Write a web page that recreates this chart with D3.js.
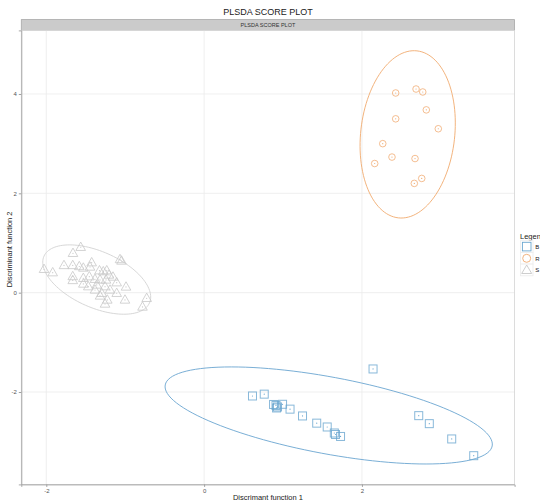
<!DOCTYPE html>
<html>
<head>
<meta charset="utf-8">
<script src="https://cdn.jsdelivr.net/npm/d3@7"></script>
<style>
  html, body { margin: 0; padding: 0; background: #fff; }
  svg { display: block; font-family: "Liberation Sans", Arial, sans-serif; }
</style>
</head>
<body>
<svg id="chart" width="540" height="503"></svg>
<script>
// Group labels
const groups = ["B", "R", "S"];

// Scores on discriminant functions 1 and 2, per group
const bX = [0.613, 0.762, 0.880, 0.911, 0.930, 0.918, 0.994, 1.089, 1.247, 1.427, 1.560, 1.650, 1.665, 1.729, 2.141, 2.720, 2.854, 3.138, 3.417];
const bY = [-2.080, -2.043, -2.251, -2.271, -2.301, -2.321, -2.247, -2.345, -2.482, -2.627, -2.704, -2.825, -2.855, -2.895, -1.536, -2.476, -2.637, -2.945, -3.282];

const rX = [2.428, 2.686, 2.771, 2.816, 2.428, 2.968, 2.264, 2.381, 2.162, 2.673, 2.758, 2.664];
const rY = [4.02, 4.10, 4.04, 3.68, 3.50, 3.30, 3.00, 2.73, 2.60, 2.70, 2.30, 2.20];

const sX = [-1.564, -1.662, -2.029, -1.919, -1.776, -1.665, -1.582, -1.531, -1.425, -1.446,
            -1.066, -1.047, -1.326, -1.278, -1.234, -1.665, -1.665, -1.531, -1.455, -1.383,
            -1.319, -1.243, -1.108, -1.155, -0.990, -1.531, -1.468, -1.361, -1.256, -1.193,
            -1.108, -1.298, -1.319, -1.227, -1.256, -1.003, -0.728, -0.781, -1.383, -1.205];
const sY = [0.914, 0.793, 0.471, 0.403, 0.548, 0.548, 0.527, 0.497, 0.604, 0.517,
            0.668, 0.638, 0.443, 0.423, 0.443, 0.326, 0.246, 0.290, 0.322, 0.270,
            0.256, 0.256, 0.201, 0.316, 0.115, 0.175, 0.121, 0.155, 0.121, 0.054,
            -0.012, -0.012, -0.066, -0.147, -0.228, -0.147, -0.113, -0.288, 0.054, 0.356];

// 95% confidence ellipses: centre and two conjugate semi-diameters (B, R, S)
const ellCx = [1.579, 2.580, -1.361];
const ellCy = [-2.472, 3.187, 0.264];
const ellUx = [2.072, 0.118, 0.669];
const ellUy = [-0.614, 1.681, -0.469];
const ellVx = [-0.089, 0.592, -0.143];
const ellVy = [-0.760, -0.105, -0.517];

// Axes
const xDomain = [-2.317, 3.935];
const yDomain = [-3.86, 5.28];
const xTicks = [-2, 0, 2];
const yTicks = [-2, 0, 2, 4];
const tickLabel = d => String(d);

const svg = d3.select("#chart");
const pLeft = 21.3, pRight = 514.6, pTop = 30.4, pBottom = 484.4;

const x = d3.scaleLinear().domain(xDomain).range([pLeft, pRight]);
const y = d3.scaleLinear().domain(yDomain).range([pBottom, pTop]);

const strokeCol = { B: "#6aa6cf", R: "#f0aa70", S: "#c8c8c8" };
const ellCol = { B: "#6aa5d0", R: "#f0aa6e", S: "#d2d2d2" };

// Title
svg.append("text").attr("x", (pLeft + pRight) / 2).attr("y", 15)
  .attr("text-anchor", "middle").attr("font-size", 9).attr("fill", "#222")
  .text("PLSDA SCORE PLOT");

// Facet strip
svg.append("rect").attr("x", pLeft).attr("y", 19.6).attr("width", pRight - pLeft).attr("height", pTop - 19.6)
  .attr("fill", "#cbcbcb").attr("stroke", "#a8a8a8").attr("stroke-width", 0.8);
svg.append("text").attr("x", (pLeft + pRight) / 2).attr("y", 27.3)
  .attr("text-anchor", "middle").attr("font-size", 5.5).attr("fill", "#333")
  .text("PLSDA SCORE PLOT");

// Panel background and grid
svg.append("rect").attr("x", pLeft).attr("y", pTop).attr("width", pRight - pLeft).attr("height", pBottom - pTop)
  .attr("fill", "#fff");
const grid = svg.append("g");
grid.selectAll("line.gx").data(xTicks).join("line")
  .attr("x1", d => x(d)).attr("x2", d => x(d)).attr("y1", pTop).attr("y2", pBottom)
  .attr("stroke", "#ebebeb").attr("stroke-width", 0.8);
grid.selectAll("line.gy").data(yTicks).join("line")
  .attr("y1", d => y(d)).attr("y2", d => y(d)).attr("x1", pLeft).attr("x2", pRight)
  .attr("stroke", "#ebebeb").attr("stroke-width", 0.8);

// Panel border
svg.append("rect").attr("x", pLeft).attr("y", pTop).attr("width", pRight - pLeft).attr("height", pBottom - pTop)
  .attr("fill", "none").attr("stroke", "#d4d4d4").attr("stroke-width", 0.8);

// Axes
const xAxis = d3.axisBottom(x).tickValues(xTicks).tickFormat(tickLabel).tickSize(2.5).tickPadding(2);
const yAxis = d3.axisLeft(y).tickValues(yTicks).tickFormat(tickLabel).tickSize(2.5).tickPadding(2);
const gx = svg.append("g").attr("transform", `translate(0,${pBottom})`).call(xAxis);
const gy = svg.append("g").attr("transform", `translate(${pLeft},0)`).call(yAxis);
[gx, gy].forEach(g => {
  g.select(".domain").attr("stroke", "#a0a0a0").attr("stroke-width", 0.9);
  g.selectAll(".tick line").attr("stroke", "#a0a0a0");
  g.selectAll(".tick text").attr("font-size", 6).attr("fill", "#555")
    .attr("font-family", "Liberation Sans, Arial, sans-serif");
});

// Axis titles
svg.append("text").attr("x", (pLeft + pRight) / 2).attr("y", 500)
  .attr("text-anchor", "middle").attr("font-size", 7.5).attr("fill", "#222")
  .text("Discrimant function 1");
svg.append("text").attr("transform", `translate(11.5,${(pTop + pBottom) / 2 - 8}) rotate(-90)`)
  .attr("text-anchor", "middle").attr("font-size", 7.5).attr("fill", "#222")
  .text("Discriminant function 2");

// Ellipses
const tSteps = d3.range(0, 121).map(i => i / 120 * 2 * Math.PI);
const ellLine = d3.line().x(d => x(d[0])).y(d => y(d[1])).curve(d3.curveLinearClosed);
groups.forEach((g, i) => {
  const pts = tSteps.map(t => [
    ellCx[i] + ellUx[i] * Math.cos(t) + ellVx[i] * Math.sin(t),
    ellCy[i] + ellUy[i] * Math.cos(t) + ellVy[i] * Math.sin(t)
  ]);
  svg.append("path").datum(pts).attr("d", ellLine)
    .attr("fill", "none").attr("stroke", ellCol[g]).attr("stroke-width", 0.9);
});

// Point markers
function marker(sel, g) {
  if (g === "B") {
    sel.append("rect").attr("x", -4).attr("y", -4).attr("width", 8).attr("height", 8)
      .attr("fill", "none").attr("stroke", strokeCol.B).attr("stroke-opacity", 0.8).attr("stroke-width", 1);
  } else if (g === "R") {
    sel.append("circle").attr("r", 3.3)
      .attr("fill", "none").attr("stroke", strokeCol.R).attr("stroke-opacity", 0.85).attr("stroke-width", 0.9);
  } else {
    sel.append("path").attr("d", "M0,-5.2L4.8,3.2L-4.8,3.2Z")
      .attr("fill", "none").attr("stroke", strokeCol.S).attr("stroke-opacity", 0.9).attr("stroke-width", 0.9);
  }
  sel.append("circle").attr("r", 0.6).attr("fill", strokeCol[g]);
}

const series = [
  { g: "B", xs: bX, ys: bY },
  { g: "R", xs: rX, ys: rY },
  { g: "S", xs: sX, ys: sY }
];
series.forEach(s => {
  const pts = s.xs.map((v, i) => [v, s.ys[i]]);
  svg.append("g").selectAll("g").data(pts).join("g")
    .attr("transform", d => `translate(${x(d[0])},${y(d[1])})`)
    .each(function () { marker(d3.select(this), s.g); });
});

// Legend (sits at the right edge of the 540px canvas)
const legend = svg.append("g").attr("transform", "translate(520,0)");
legend.append("text").attr("x", 0).attr("y", 238.5).attr("font-size", 7.5).attr("fill", "#222").text("Legend");
groups.forEach((g, i) => {
  const ky = 240.7 + i * 11.7;
  const k = legend.append("g");
  k.append("rect").attr("x", 0.5).attr("y", ky).attr("width", 12.5).attr("height", 11.7)
    .attr("fill", "#fff").attr("stroke", "#ececec").attr("stroke-width", 0.8);
  const m = k.append("g").attr("transform", `translate(6.7,${ky + 5.9})`);
  if (g === "B") {
    m.append("rect").attr("x", -4.3).attr("y", -4.3).attr("width", 8.6).attr("height", 8.6)
      .attr("fill", "none").attr("stroke", strokeCol.B).attr("stroke-width", 0.9);
  } else if (g === "R") {
    m.append("circle").attr("r", 4).attr("fill", "none").attr("stroke", strokeCol.R).attr("stroke-width", 0.9);
  } else {
    m.append("path").attr("d", "M0,-5L5,3.5L-5,3.5Z").attr("fill", "none").attr("stroke", strokeCol.S).attr("stroke-width", 0.9);
  }
  legend.append("text").attr("x", 15.3).attr("y", ky + 8.2).attr("font-size", 6).attr("fill", "#222").text(g);
});
</script>
</body>
</html>
